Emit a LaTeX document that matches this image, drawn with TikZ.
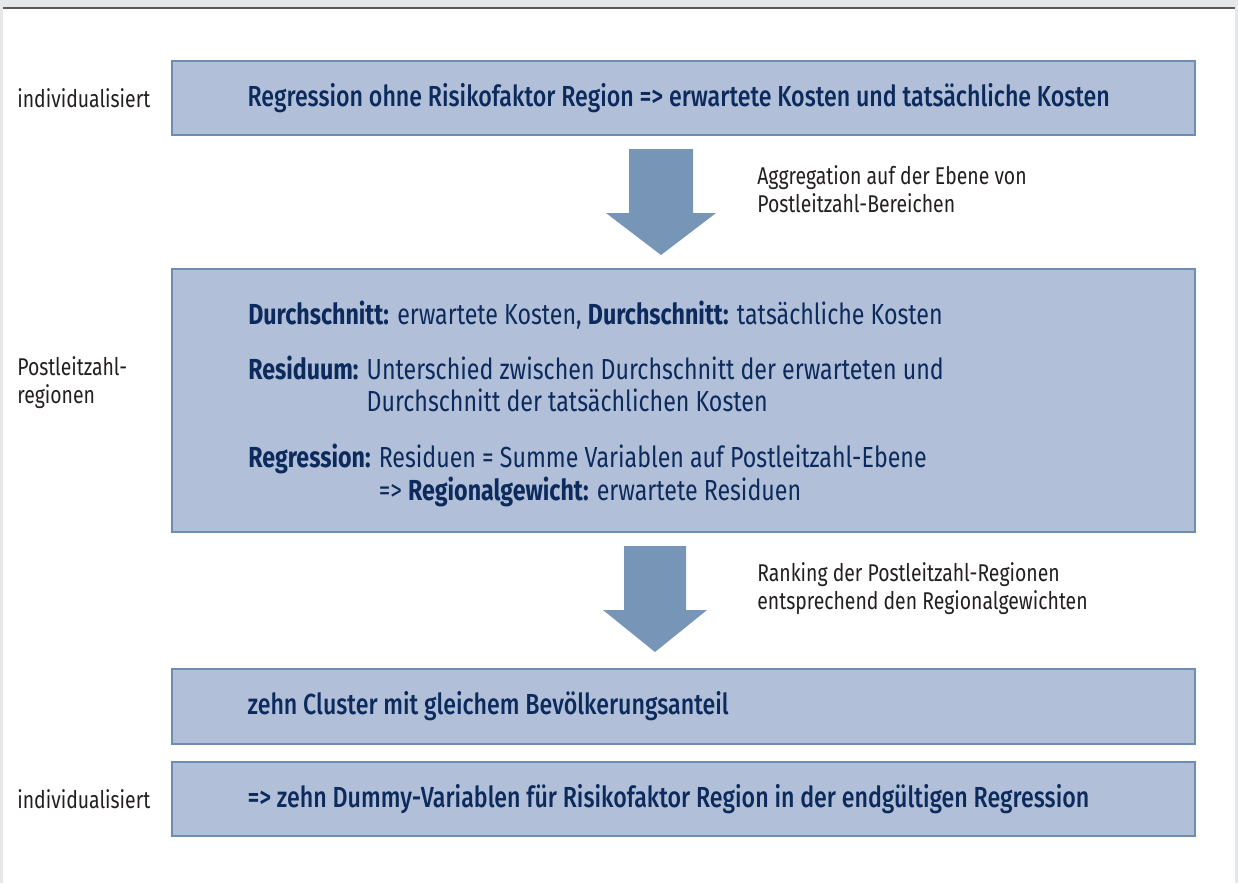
\documentclass[tikz,border=0pt]{standalone}
\usepackage{fontspec}
\setmainfont{Fira Sans}[FakeStretch=0.8]
\newfontfamily\medfont{Fira Sans Medium}[FakeStretch=0.8]
\usetikzlibrary{positioning}

\definecolor{boxfill}{HTML}{B1C0D8}
\definecolor{boxline}{HTML}{6E8DB2}
\definecolor{navy}{HTML}{0C2A5C}
\definecolor{arrowfill}{HTML}{7795B7}
\definecolor{panelgray}{HTML}{E6E7E9}
\definecolor{ink}{HTML}{231F20}

\begin{document}
\begin{tikzpicture}[x=0.02cm, y=-0.02cm,
  box/.style={draw=boxline, fill=boxfill, line width=1pt, minimum width=20.46cm,
              minimum height=1.48cm, inner sep=0pt},
  btxt/.style={font=\fontsize{16.5}{17}\selectfont, text=navy, inner sep=0pt, anchor=west},
  htxt/.style={btxt, font=\fontsize{16.5}{17}\selectfont\medfont},
  note/.style={font=\fontsize{13.8}{16}\selectfont, text=ink, align=left, inner sep=0pt, anchor=west},
  bigarrow/.style={fill=arrowfill},
]
\useasboundingbox (0,0) rectangle (1238,883);

% --- panel ---
\fill[panelgray] (0,0) rectangle (1238,883);
\fill[white] (3,9) rectangle (1235,883);
\draw[line width=0.8pt, black!65] (3,8) -- (1235,8);

% --- process boxes ---
\node[box] (reg) at (683.5,98) {};
\node[box, minimum height=5.26cm] (avg) at (683.5,400.5) {};
\node[box, minimum height=1.5cm] (clu) at (683.5,706.5) {};
\node[box] (dum) at (683.5,799) {};

\node[htxt, right=1.52cm of reg.west] (regt) {Regression ohne Risikofaktor Region => erwartete Kosten und tatsächliche Kosten};

\node[btxt] (avg1) at (248,315) {\textbf{Durchschnitt:} erwartete Kosten, \textbf{Durchschnitt:} tatsächliche Kosten};
\node[btxt] (avg2) at (248,388) {\begin{tabular}{@{}l@{ }l@{}}
  \textbf{Residuum:} & Unterschied zwischen Durchschnitt der erwarteten und\\
                     & Durchschnitt der tatsächlichen Kosten
\end{tabular}};
\node[btxt] (avg3) at (248,476.5) {\begin{tabular}{@{}l@{ }l@{}}
  \textbf{Regression:} & Residuen = Summe Variablen auf Postleitzahl-Ebene\\
                       & => \textbf{Regionalgewicht:} erwartete Residuen
\end{tabular}};

\node[htxt, right=1.52cm of clu.west] (clut) {zehn Cluster mit gleichem Bevölkerungsanteil};
\node[htxt, right=1.52cm of dum.west] (dumt) {=> zehn Dummy-Variablen für Risikofaktor Region in der endgültigen Regression};

% --- block arrows ---
\fill[bigarrow, shift={(661,149)}] (-32,0) -- (32,0) -- (32,64) -- (55,64) -- (0,106)
  -- (-55,64) -- (-32,64) -- cycle;
\fill[bigarrow, shift={(655,546)}] (-31,0) -- (31,0) -- (31,64) -- (52,64) -- (0,106)
  -- (-52,64) -- (-31,64) -- cycle;

% --- side notes ---
\node[note] (lvl1) at (17,98) {individualisiert};
\node[note] (lvl2) at (17,383) {Postleitzahl-\\regionen};
\node[note] (lvl3) at (17,799) {individualisiert};

\node[note] (aggn) at (757,189) {Aggregation auf der Ebene von\\Postleitzahl-Bereichen};
\node[note] (rnkn) at (757,589) {Ranking der Postleitzahl-Regionen\\entsprechend den Regionalgewichten};
\end{tikzpicture}
\end{document}
